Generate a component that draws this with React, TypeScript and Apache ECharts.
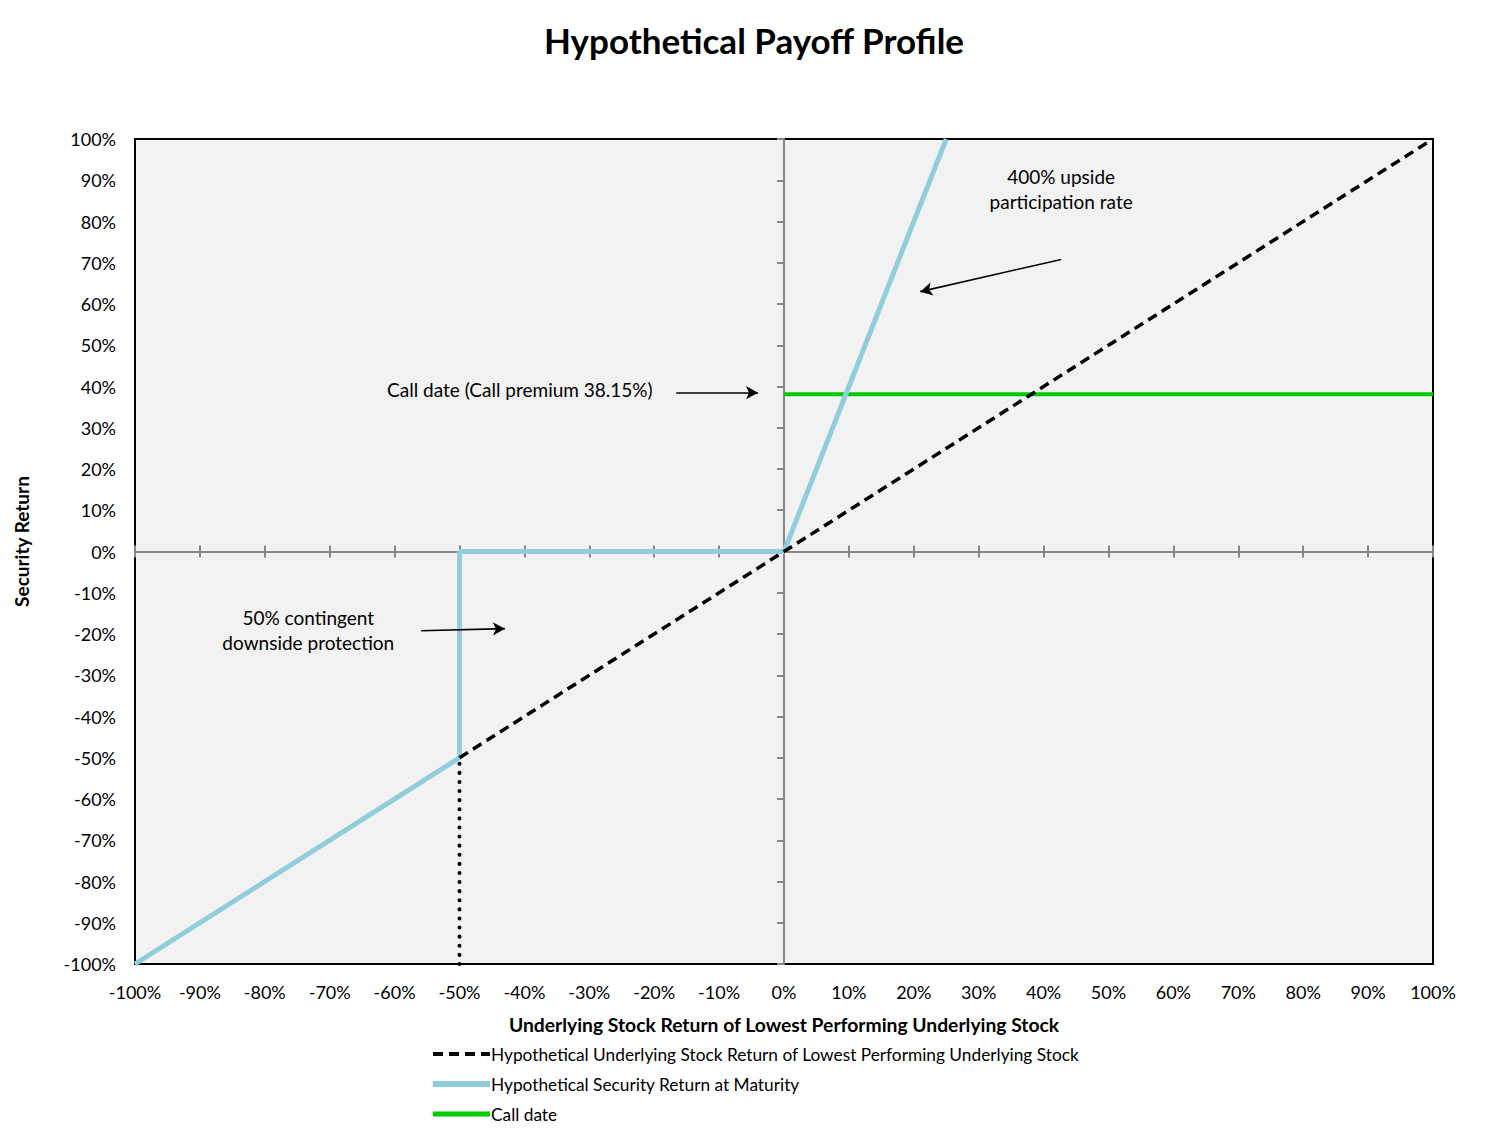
import React, { useEffect, useRef } from "react";
import * as echarts from "echarts";

const FONT = "Lato, 'Open Sans', sans-serif";

const TITLE = "Hypothetical Payoff Profile";
const X_NAME = "Underlying Stock Return of Lowest Performing Underlying Stock";
const Y_NAME = "Security Return";
const SERIES_NAMES = [
  "Hypothetical Underlying Stock Return of Lowest Performing Underlying Stock",
  "Hypothetical Security Return at Maturity",
  "Call date",
];

const underlyingLine: [number, number][] = [
  [-50, -50],
  [100, 100],
];
const securityLine: [number, number][] = [
  [-100, -100],
  [-50, -50],
  [-50, 0],
  [0, 0],
  [25, 100],
];
const callLine: [number, number][] = [
  [0, 38.15],
  [100, 38.15],
];
const barrierDrop: [number, number][] = [
  [-50, -100],
  [-50, -50],
];

// annotation arrows (data coordinates): [start, end]
const arrows: [[number, number], [number, number]][] = [
  [[42.7, 70.8], [21.0, 63.0]],
  [[-16.6, 38.5], [-4.0, 38.5]],
  [[-55.9, -19.2], [-43.0, -18.7]],
];
const notes: { text: string; at: [number, number] }[] = [
  { text: "400% upside\nparticipation rate", at: [42.7, 87.8] },
  { text: "Call date (Call premium 38.15%)", at: [-40.7, 39.2] },
  { text: "50% contingent\ndownside protection", at: [-73.3, -19.0] },
];

export default function App() {
  const ref = useRef<HTMLDivElement>(null);
  useEffect(() => {
    if (!ref.current) return;
    const chart = echarts.init(ref.current, null, { renderer: "svg" });
    const axisBase = {
      type: "value" as const,
      min: -100,
      max: 100,
      interval: 10,
    };
    const gray = "#868686";
    chart.setOption({
      animation: false,
      backgroundColor: "#ffffff",
      title: {
        text: TITLE,
        left: "center",
        top: 17,
        textStyle: { fontFamily: FONT, fontSize: 35, fontWeight: "bold", color: "#000" },
      },
      grid: {
        left: 135,
        right: 75,
        top: 139,
        bottom: 166,
        show: true,
        backgroundColor: "#f2f2f2",
        borderColor: "#000",
        borderWidth: 2,
      },
      legend: {
        orient: "vertical",
        left: 430,
        top: 1044,
        height: 200,
        padding: 0,
        itemWidth: 57,
        itemHeight: 14,
        itemGap: 10,
        data: [
          { name: SERIES_NAMES[0], lineStyle: { width: 4 } },
          { name: SERIES_NAMES[1], lineStyle: { width: 6 } },
          { name: SERIES_NAMES[2], lineStyle: { width: 5 } },
        ],
        itemStyle: { opacity: 0 },
        textStyle: { fontFamily: FONT, fontSize: 17.3, color: "#000", padding: [0, 0, 0, -4], lineHeight: 20 },
      },
      xAxis: [
        {
          ...axisBase,
          position: "bottom",
          axisLine: { show: false, onZero: false },
          axisTick: { show: false },
          splitLine: { show: false },
          axisLabel: {
            formatter: "{value}%",
            fontFamily: FONT,
            fontSize: 18,
            color: "#000",
            margin: 19,
          },
          name: X_NAME,
          nameLocation: "middle",
          nameGap: 51,
          nameTextStyle: { fontFamily: FONT, fontSize: 19.3, fontWeight: "bold", color: "#000" },
        },
        {
          ...axisBase,
          position: "bottom",
          axisLine: { show: true, onZero: true, onZeroAxisIndex: 0, lineStyle: { color: gray, width: 2 } },
          axisTick: { show: true, inside: false, length: 6, lineStyle: { color: gray, width: 2 } },
          axisLabel: { show: false },
          splitLine: { show: false },
        },
        {
          ...axisBase,
          position: "bottom",
          axisLine: { show: false, onZero: true, onZeroAxisIndex: 0 },
          axisTick: { show: true, inside: true, length: 6, lineStyle: { color: gray, width: 2 } },
          axisLabel: { show: false },
          splitLine: { show: false },
        },
      ],
      yAxis: [
        {
          ...axisBase,
          position: "left",
          axisLine: { show: false, onZero: false },
          axisTick: { show: false },
          splitLine: { show: false },
          axisLabel: {
            formatter: "{value}%",
            fontFamily: FONT,
            fontSize: 18,
            color: "#000",
            margin: 19,
          },
          name: Y_NAME,
          nameLocation: "middle",
          nameGap: 104,
          nameTextStyle: {
            fontFamily: FONT,
            fontSize: 19,
            fontWeight: "bold",
            color: "#000",
            padding: [0, 0, 0, 20],
          },
        },
        {
          ...axisBase,
          position: "left",
          axisLine: { show: true, onZero: true, onZeroAxisIndex: 0, lineStyle: { color: gray, width: 2 } },
          axisTick: { show: true, inside: false, length: 7, lineStyle: { color: gray, width: 2 } },
          axisLabel: { show: false },
          splitLine: { show: false },
        },
      ],
      series: [
        {
          name: SERIES_NAMES[2],
          type: "line",
          data: callLine,
          showSymbol: false,
          symbol: "none",
          lineStyle: { color: "#00cc00", width: 4 },
          itemStyle: { color: "#00cc00" },
          z: 2,
        },
        {
          name: SERIES_NAMES[1],
          type: "line",
          data: securityLine,
          showSymbol: false,
          symbol: "none",
          lineStyle: { color: "#92cddc", width: 5 },
          itemStyle: { color: "#92cddc" },
          z: 3,
        },
        {
          name: SERIES_NAMES[0],
          type: "line",
          data: underlyingLine,
          showSymbol: false,
          symbol: "none",
          lineStyle: { color: "#000", width: 3.5, type: [10, 6] },
          itemStyle: { color: "#000" },
          z: 4,
        },
        {
          name: "barrier",
          type: "line",
          data: barrierDrop,
          showSymbol: false,
          symbol: "none",
          lineStyle: { color: "#000", width: 4, type: [0.1, 9], cap: "round" },
          z: 4,
          markLine: {
            silent: true,
            symbol: ["none", "arrow"],
            symbolSize: [10, 12],
            lineStyle: { color: "#000", width: 1.6, type: "solid" },
            label: { show: false },
            data: arrows.map(([s, e]) => [{ coord: s }, { coord: e }]),
          },
          markPoint: {
            silent: true,
            symbol: "rect",
            symbolSize: 1,
            itemStyle: { color: "transparent" },
            label: {
              show: true,
              position: "inside",
              color: "#000",
              fontFamily: FONT,
              fontSize: 19,
              lineHeight: 25,
              align: "center",
            },
            data: notes.map((n) => ({ coord: n.at, value: n.text, label: { formatter: n.text } })),
          },
        },
      ],
    });
    return () => chart.dispose();
  }, []);
  return (
    <div
      ref={ref}
      style={{ position: "absolute", left: 0, top: 0, width: 1508, height: 1130 }}
    />
  );
}
